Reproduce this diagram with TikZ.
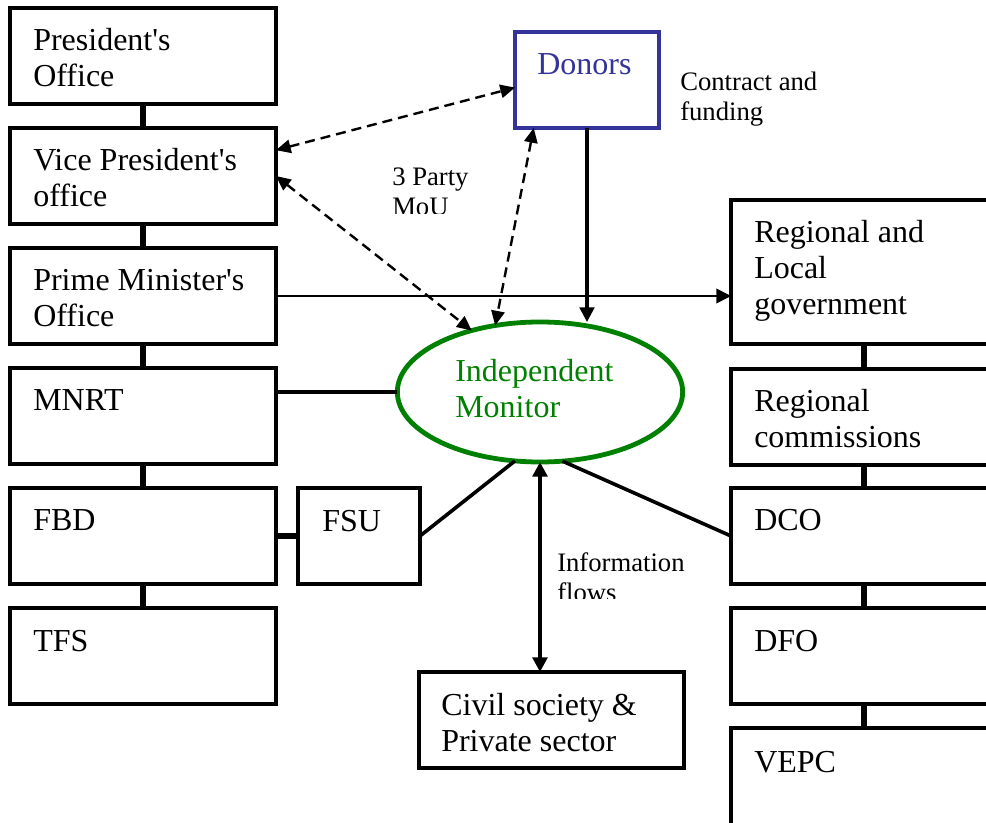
\documentclass[tikz,border=0pt]{standalone}
\usepackage{fontspec}
\setmainfont{Liberation Serif}[Ligatures=TeXOff]
\usetikzlibrary{arrows.meta,shapes.geometric}
\definecolor{donblue}{RGB}{51,51,153}
\definecolor{mongreen}{RGB}{0,128,0}
\begin{document}
\begin{tikzpicture}[x=0.75pt,y=-0.75pt,
  box/.style={draw, line width=2.5pt, rectangle, inner sep=0pt, outer sep=0pt,
    minimum width=199.5pt, minimum height=72pt, anchor=north west},
  lbl/.style={anchor=base west, align=left, inner sep=0pt, font=\fontsize{24}{27}\selectfont},
  smalllbl/.style={anchor=base west, align=left, inner sep=0pt, font=\fontsize{20}{22.5}\selectfont},
  vconn/.style={line width=4.6pt},
  link/.style={line width=2.7pt},
  tipA/.style={-{Triangle[length=11pt,width=11pt]}},
  tipAB/.style={{Triangle[length=11pt,width=11pt]}-{Triangle[length=11pt,width=11pt]}},
  dlink/.style={line width=1.8pt, dash pattern=on 7.5pt off 4.5pt,
    {Triangle[length=11pt,width=10pt]}-{Triangle[length=11pt,width=10pt]}}
]
\useasboundingbox (0,0) rectangle (986,823);
\clip (0,0) rectangle (986,823);
\fill[white] (0,0) rectangle (986,823);

% left column
\node[box] (pres) at (10,8) {};
\node[box] (vp)   at (10,128) {};
\node[box] (pm)   at (10,248) {};
\node[box] (mnrt) at (10,368) {};
\node[box] (fbd)  at (10,488) {};
\node[box] (tfs)  at (10,608) {};
% right column
\node[box, minimum height=108pt] (reg) at (731,200) {};
\node[box] (rc)   at (731,369) {};
\node[box] (dco)  at (731,488) {};
\node[box] (dfo)  at (731,608) {};
\node[box, minimum height=95pt] (vepc) at (731,728) {};
% middle
\node[box, minimum width=91.5pt] (fsu) at (298,488) {};
\node[box, minimum width=198.75pt] (civ) at (419,672) {};
\node[box, draw=donblue, minimum width=108pt] (donors) at (515,32) {};
\node[draw=mongreen, line width=3.6pt, ellipse, inner sep=0pt, outer sep=0pt,
  minimum width=214pt, minimum height=105pt] (mon) at (540,392) {};

% labels (base anchor = baseline of the last line)
\node[lbl] (tpres) at (33,87) {President's\\Office};
\node[lbl] (tvp) at (33,207) {Vice President's\\office};
\node[lbl] (tpm) at (33,327) {Prime Minister's\\Office};
\node[lbl] (tmnrt) at (33,411) {MNRT};
\node[lbl] (tfbd) at (33,531) {FBD};
\node[lbl] (ttfs) at (33,651) {TFS};
\node[lbl] (treg) at (754,315) {Regional and\\Local\\government};
\node[lbl] (trc) at (754,448) {Regional\\commissions};
\node[lbl] (tdco) at (754,531) {DCO};
\node[lbl] (tdfo) at (754,651) {DFO};
\node[lbl] (tvepc) at (754,772) {VEPC};
\node[lbl] (tfsu) at (322,532) {FSU};
\node[lbl] (tciv) at (441,751) {Civil society \&\\Private sector};
\node[lbl, text=donblue] (tdon) at (537,75) {Donors};
\node[lbl, text=mongreen] (tmon) at (455,418) {Independent\\Monitor};
\node[smalllbl] (contract) at (680,121) {Contract and\\funding};
\begin{scope}
  \clip (380,150) rectangle (520,214);
  \node[smalllbl] (mou) at (392,216) {3 Party\\MoU};
\end{scope}
\begin{scope}
  \clip (545,540) rectangle (720,598);
  \node[smalllbl] (info) at (557,601) {Information\\flows};
\end{scope}

% hierarchy connectors
\draw[vconn] (pres.south) -- (vp.north);
\draw[vconn] (vp.south) -- (pm.north);
\draw[vconn] (pm.south) -- (mnrt.north);
\draw[vconn] (mnrt.south) -- (fbd.north);
\draw[vconn] (fbd.south) -- (tfs.north);
\draw[vconn] (reg.south) -- (rc.north);
\draw[vconn] (rc.south) -- (dco.north);
\draw[vconn] (dco.south) -- (dfo.north);
\draw[vconn] (dfo.south) -- (vepc.north);
\draw[vconn] (fbd.east) -- (fsu.west);

% monitor links
\draw[line width=2.4pt] (mnrt.east |- mon.west) -- (mon.west);
\draw[link] (fsu.east) -- (mon.250);
\draw[link] (mon.288) -- (dco.west);
\draw[line width=1.3pt, tipA] (pm.east) -- (pm.east -| reg.west);
\draw[line width=2.3pt, tipA] (donors.south) -- (donors.south |- mon.north);
\draw[line width=2.7pt, tipAB] (mon.south) -- (mon.south |- civ.north);

% dashed MoU links
\draw[dlink] (vp.11) -- (donors.186);
\draw[dlink] (vp.east) -- (mon.138);
\draw[dlink] (donors.222) -- (mon.124);
\end{tikzpicture}
\end{document}
